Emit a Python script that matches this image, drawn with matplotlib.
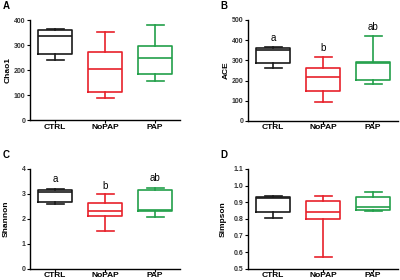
import matplotlib
matplotlib.use('Agg')
import matplotlib.pyplot as plt

plt.rcParams['font.family'] = ['Liberation Sans', 'DejaVu Sans']

groups = ['CTRL', 'NoPAP', 'PAP']
colors = ['#1a1a1a', '#e8212b', '#22a04a']

# each: [min, q1, median, q3, max] per group
chao1 = [[241, 263, 336, 359, 364],
         [89, 113, 203, 271, 351],
         [156, 184, 249, 296, 379]]
ace = [[261, 285, 352, 360, 365],
       [92, 150, 216, 261, 315],
       [183, 203, 289, 294, 422]]
shannon = [[2.59, 2.68, 3.08, 3.16, 3.19],
           [1.51, 2.13, 2.32, 2.64, 2.98],
           [2.07, 2.31, 2.34, 3.16, 3.25]]
simpson = [[0.807, 0.838, 0.925, 0.929, 0.937],
           [0.573, 0.797, 0.838, 0.907, 0.939],
           [0.848, 0.852, 0.872, 0.929, 0.958]]

ace_letters = ['a', 'b', 'ab']
ace_letter_y = [388, 335, 440]
shannon_letters = ['a', 'b', 'ab']
shannon_letter_y = [3.38, 3.12, 3.42]

panels = [
    ('A', 'Chao1', chao1, (0, 400), [0, 100, 200, 300, 400], None, None),
    ('B', 'ACE', ace, (0, 500), [0, 100, 200, 300, 400, 500], ace_letters, ace_letter_y),
    ('C', 'Shannon', shannon, (0, 4), [0, 1, 2, 3, 4], shannon_letters, shannon_letter_y),
    ('D', 'Simpson', simpson, (0.5, 1.1), [0.5, 0.6, 0.7, 0.8, 0.9, 1.0, 1.1], None, None),
]

positions = [
    [0.075, 0.571, 0.375, 0.357],
    [0.62, 0.568, 0.375, 0.361],
    [0.075, 0.04, 0.375, 0.357],
    [0.62, 0.04, 0.375, 0.357],
]
letter_pos = [(3, 6), (220, 6), (3, 155), (220, 155)]
ylabel_x = [8, 226, 6, 223]

fig = plt.figure(figsize=(4, 2.8), dpi=100)

for i, (tag, name, data, ylim, yticks, letters, letter_y) in enumerate(panels):
    ax = fig.add_axes(positions[i])
    for j, v in enumerate(data):
        c = colors[j]
        s = {'label': groups[j], 'whislo': v[0], 'q1': v[1], 'med': v[2],
             'q3': v[3], 'whishi': v[4], 'fliers': []}
        ax.bxp([s], positions=[j], widths=0.68, showfliers=False,
               boxprops=dict(color=c, linewidth=1.2),
               medianprops=dict(color=c, linewidth=1.2),
               whiskerprops=dict(color=c, linewidth=1.2),
               capprops=dict(color=c, linewidth=1.2),
               capwidths=0.34)
    ax.set_xlim(-0.5, 2.5)
    ax.set_ylim(*ylim)
    ax.set_yticks(yticks)
    if name == 'Simpson':
        ax.set_yticklabels([f'{t:.1f}' for t in yticks])
    for lab in ax.get_yticklabels():
        lab.set_fontweight('bold')
    ax.set_xticks(range(3))
    ax.set_xticklabels(groups, fontweight='bold', fontsize=6)
    ax.tick_params(axis='y', labelsize=5, length=2.5, width=0.8, pad=0.8,
                   labelcolor='#333333')
    ax.tick_params(axis='x', length=2, width=0.8, pad=0.5)
    for sp in ['top', 'right']:
        ax.spines[sp].set_visible(False)
    for sp in ['left', 'bottom']:
        ax.spines[sp].set_linewidth(1.0)
    yc = positions[i][1] + positions[i][3] / 2
    fig.text(ylabel_x[i] / 400, yc, name, rotation=90, ha='center', va='center',
             fontsize=6, fontweight='bold')
    fig.text(letter_pos[i][0] / 400, 1 - letter_pos[i][1] / 280, tag,
             ha='left', va='center', fontsize=7, fontweight='bold')
    if letters:
        for j, (l, y) in enumerate(zip(letters, letter_y)):
            ax.text(j, y, l, ha='center', va='bottom', fontsize=7)

fig.savefig('out.png', dpi=100)
